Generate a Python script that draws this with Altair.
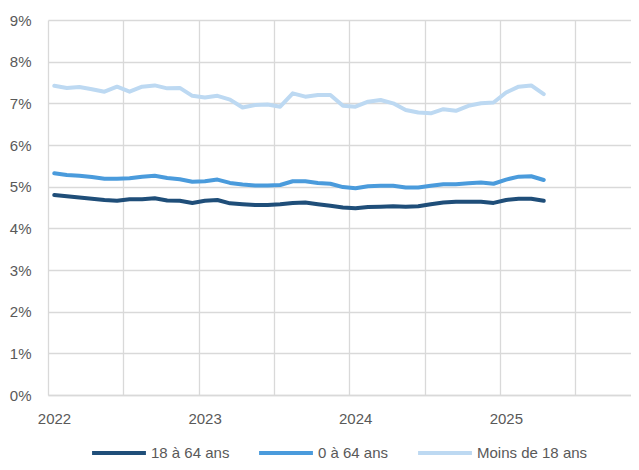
import altair as alt
import pandas as pd

months = [f"{y}-{m:02d}" for y in (2022, 2023, 2024, 2025) for m in range(1, 13)][:40]

adults_18_64 = [4.80, 4.77, 4.74, 4.71, 4.68, 4.66, 4.70, 4.70, 4.72, 4.67, 4.66, 4.61,
                4.66, 4.68, 4.60, 4.58, 4.56, 4.56, 4.58, 4.61, 4.62, 4.58, 4.54, 4.50,
                4.48, 4.51, 4.52, 4.53, 4.52, 4.53, 4.58, 4.62, 4.64, 4.64, 4.64, 4.61,
                4.68, 4.71, 4.71, 4.66]
all_0_64 = [5.32, 5.28, 5.26, 5.23, 5.19, 5.19, 5.20, 5.24, 5.26, 5.21, 5.18, 5.12,
            5.13, 5.17, 5.09, 5.05, 5.03, 5.03, 5.04, 5.13, 5.13, 5.09, 5.07, 4.99,
            4.96, 5.01, 5.02, 5.02, 4.98, 4.98, 5.02, 5.06, 5.06, 5.08, 5.10, 5.07,
            5.17, 5.24, 5.25, 5.16]
under_18 = [7.42, 7.37, 7.39, 7.34, 7.28, 7.40, 7.28, 7.40, 7.43, 7.36, 7.37, 7.18,
            7.14, 7.18, 7.09, 6.90, 6.96, 6.97, 6.92, 7.24, 7.16, 7.20, 7.20, 6.94,
            6.92, 7.04, 7.08, 7.00, 6.84, 6.78, 6.76, 6.86, 6.82, 6.94, 7.00, 7.02,
            7.26, 7.40, 7.43, 7.22]

series_names = ["18 à 64 ans", "0 à 64 ans", "Moins de 18 ans"]
series_values = [adults_18_64, all_0_64, under_18]
colors = ["#1F4E79", "#4A9BDC", "#BDD9F2"]

rows = []
for name, vals in zip(series_names, series_values):
    for mo, v in zip(months, vals):
        y, m = int(mo[:4]), int(mo[5:])
        rows.append({"mois": mo, "t": y + (m - 0.5) / 12, "serie": name, "taux": v / 100})
df = pd.DataFrame(rows)

FONT = "Liberation Sans"
TXT = "#595959"
GRID = "#d9d9d9"

x_ticks = [2022, 2022.5, 2023, 2023.5, 2024, 2024.5, 2025, 2025.5]
y_ticks = [i / 100 for i in range(0, 10)]

chart = alt.Chart(df).mark_line(strokeWidth=4, strokeCap="round", strokeJoin="round").encode(
    x=alt.X("t:Q",
            scale=alt.Scale(domain=[2022, 2025.871], nice=False, zero=False),
            axis=alt.Axis(values=x_ticks, title=None,
                          labelExpr="datum.value % 1 === 0 ? '' + datum.value : ''",
                          labelOffset=6, labelPadding=16, tickSize=0, labelFontSize=15,
                          labelFont=FONT, labelColor=TXT, grid=True, gridColor=GRID,
                          gridWidth=1.3, domain=True, domainColor=GRID, domainWidth=1.5,
                          labelFlush=False)),
    y=alt.Y("taux:Q",
            scale=alt.Scale(domain=[0, 0.09], nice=False),
            axis=alt.Axis(values=y_ticks, format=".0%", title=None, tickSize=0,
                          labelPadding=17, labelFontSize=15, labelFont=FONT,
                          labelColor=TXT, grid=True, gridColor=GRID, gridWidth=1.3,
                          domain=False)),
    color=alt.Color("serie:N",
                    scale=alt.Scale(domain=series_names, range=colors),
                    sort=series_names,
                    legend=alt.Legend(title=None, orient="none", direction="horizontal",
                                      legendX=42, legendY=404, symbolType="stroke",
                                      symbolSize=2900, symbolStrokeWidth=4,
                                      labelFont=FONT, labelFontSize=15, labelColor=TXT,
                                      labelOffset=3, columnPadding=21, padding=0)),
    order=alt.Order("t:Q"),
).properties(
    width=583, height=375,
    autosize=alt.AutoSizeParams(type="none"),
    padding={"left": 40, "top": 12, "right": 0, "bottom": 67},
).configure_view(stroke=None)

chart.save("out.html", embed_options={"renderer": "svg", "actions": False})
